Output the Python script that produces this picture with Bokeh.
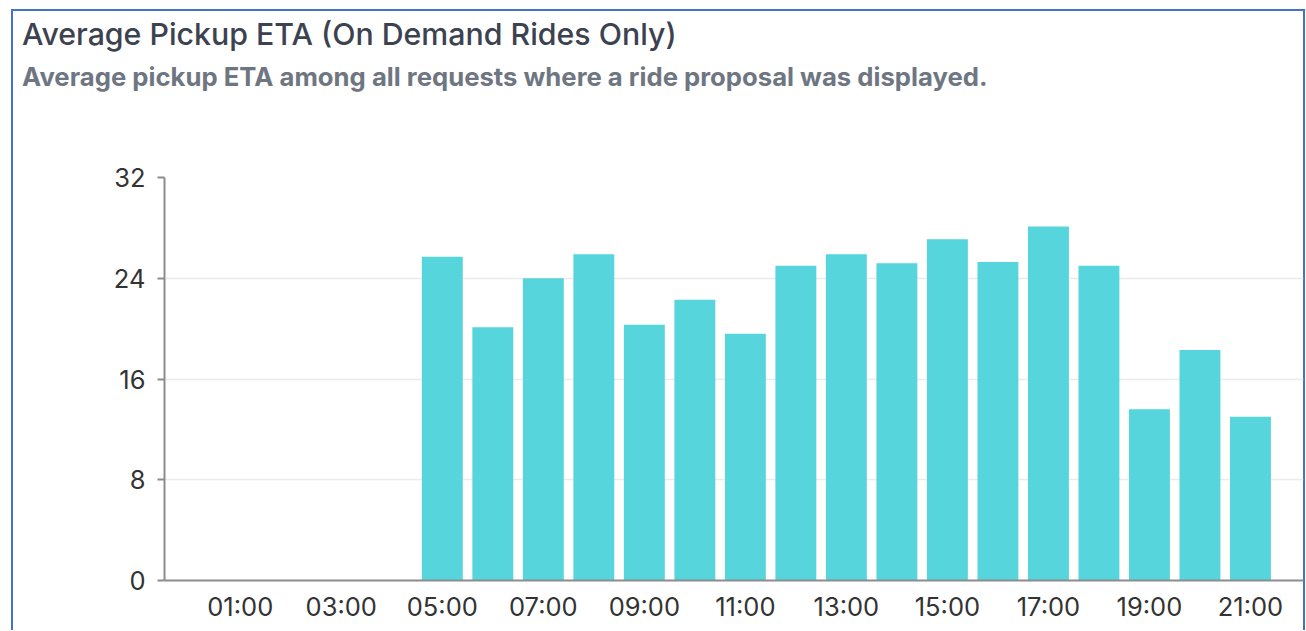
from bokeh.plotting import figure
from bokeh.models import Range1d, FixedTicker, Div
from bokeh.layouts import column
from bokeh.embed import file_html
from bokeh.resources import INLINE

hours = ["00:00", "01:00", "02:00", "03:00", "04:00", "05:00", "06:00", "07:00",
         "08:00", "09:00", "10:00", "11:00", "12:00", "13:00", "14:00", "15:00",
         "16:00", "17:00", "18:00", "19:00", "20:00", "21:00"]
eta = [0, 0, 0, 0, 0, 25.7, 20.1, 24.0, 25.9, 20.3, 22.3, 19.6, 25.0, 25.9,
       25.2, 27.1, 25.3, 28.1, 25.0, 13.6, 18.3, 13.0]
y_ticks = [0, 8, 16, 24, 32]
label_hours = hours[1::2]

title_text = "Average Pickup ETA (On Demand Rides Only)"
subtitle_text = "Average pickup ETA among all requests where a ride proposal was displayed."

FONT = "Inter"
W = 1306

title_div = Div(
    text=('<div style="padding:16px 0 0 22px;font-family:Inter;font-weight:500;'
          'font-size:30.3px;line-height:36px;color:#3C4250;white-space:nowrap">'
          + title_text + '</div>'),
    width=W, height=52, margin=0)
sub_div = Div(
    text=('<div style="padding:10px 0 0 22px;font-family:Inter;font-weight:700;'
          'font-size:25.7px;line-height:30px;color:#6E7682;white-space:nowrap">'
          + subtitle_text + '</div>'),
    width=W, height=40, margin=0)

xs = list(range(len(hours)))
p = figure(width=W, height=538, output_backend="svg", toolbar_location=None,
           title=None, x_range=Range1d(-0.5, 22.05), y_range=Range1d(0, 32),
           min_border_left=164, min_border_right=3, min_border_bottom=50,
           min_border_top=85, margin=0)
p.background_fill_color = None
p.border_fill_color = None

p.vbar(x=xs, top=eta, width=0.81, fill_color="#56D5DC", line_color=None)

p.outline_line_color = None
p.xgrid.grid_line_color = None
p.ygrid.grid_line_color = "#EBEBEB"
p.ygrid.grid_line_width = 1.5

p.yaxis.ticker = FixedTicker(ticks=y_ticks)
p.yaxis.minor_tick_line_color = None
p.yaxis.major_tick_out = 7
p.yaxis.major_tick_in = 0
p.yaxis.axis_line_color = "#8C8C8C"
p.yaxis.axis_line_width = 2
p.yaxis.major_tick_line_color = "#8C8C8C"
p.yaxis.major_tick_line_width = 2
p.yaxis.major_label_standoff = 12

p.xaxis.ticker = FixedTicker(ticks=xs[1::2])
p.xaxis.major_label_overrides = {i: h for i, h in zip(xs[1::2], label_hours)}
p.xaxis.minor_tick_line_color = None
p.xaxis.major_tick_out = 0
p.xaxis.major_tick_in = 0
p.xaxis.axis_line_color = "#8C8C8C"
p.xaxis.axis_line_width = 2
p.xaxis.major_label_standoff = 10

for ax in (p.xaxis, p.yaxis):
    ax.major_label_text_font = FONT
    ax.major_label_text_font_size = "25.5px"
    ax.major_label_text_color = "#333333"

BLUE = "#4472C4"
g = f"linear-gradient({BLUE},{BLUE})"
layout = column(title_div, sub_div, p, spacing=0, margin=0)
layout.styles = {
    "background": (f"{g} 11px 9px / 2px calc(100% - 9px) no-repeat, "
                   f"{g} 11px 9px / 1294px 2px no-repeat, "
                   f"{g} 1303px 9px / 2px calc(100% - 9px) no-repeat, #FFFFFF"),
}

open("out.html", "w").write(file_html(layout, INLINE))
